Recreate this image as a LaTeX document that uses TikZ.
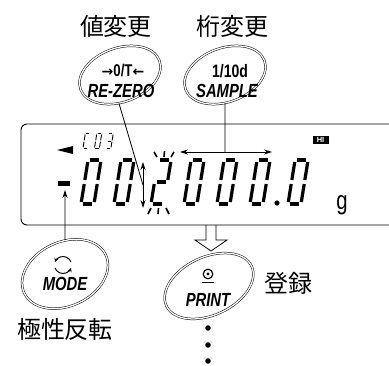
\documentclass[tikz,border=0pt]{standalone}
\usepackage{fontspec}
\setmainfont{Liberation Sans}
\newfontfamily\jpfont{Noto Sans CJK JP}
\newfontfamily\keyfont[FakeStretch=0.78]{Liberation Sans}
\newfontfamily\symfont{DejaVu Sans}
\usetikzlibrary{shapes.geometric, arrows.meta}

\newcommand{\keyarrow}[1]{{\symfont\bfseries\fontsize{14}{14}\selectfont #1}}

\begin{document}
\begin{tikzpicture}[x=1pt, y=-1pt, >={Stealth[length=8pt, width=5pt]},
    seg/.style={line width=3.2pt},
    keybtn/.style={ellipse, draw, double, double distance=1.3pt, line width=0.5pt, inner sep=0pt},
    keytext/.style={font=\keyfont\bfseries\itshape\fontsize{19}{19}\selectfont, inner sep=0pt},
    jplabel/.style={font=\jpfont\fontsize{24}{24}\selectfont, inner sep=0pt},
    pics/segdigit/.style={code={
        \coordinate (a1) at (2,-44);  \coordinate (a2) at (11,-44);
        \coordinate (b1) at (13,-42); \coordinate (b2) at (13,-24);
        \coordinate (c1) at (13,-20); \coordinate (c2) at (13,-2);
        \coordinate (d1) at (11,0);   \coordinate (d2) at (2,0);
        \coordinate (e1) at (0,-2);   \coordinate (e2) at (0,-20);
        \coordinate (f1) at (0,-24);  \coordinate (f2) at (0,-42);
        \coordinate (g1) at (2,-22);  \coordinate (g2) at (11,-22);
        \foreach \s in {#1} {\draw[seg] (\s1) -- (\s2);}
    }}]

    \useasboundingbox (0,0) rectangle (389,365);

    % --- Display window ---
    \draw[line width=0.9pt, rounded corners=6pt] (400,124) -- (21,124) -- (21,225) -- (400,225);

    % --- Main reading ---
    \fill (58,181) rectangle (70,186); % sign
    \foreach \xpos in {81,114,184,217,250,288}
        \pic[xslant=0.16] at (\xpos,204) {segdigit={a,b,c,d,e,f}};
    \pic[xslant=0.16] at (151,204) {segdigit={a,b,g,e,d}}; % blinking digit
    \fill (277,203) circle (2.6pt);
    \node[font=\keyfont\fontsize{26}{26}\selectfont, anchor=base, inner sep=0pt] (unit) at (342,209) {g};

    % --- Status marks ---
    \fill (57,150) -- (73,146) -- (73,154) -- cycle;
    \foreach \xpos/\segs in {83/{a,d,e,f}, 94.5/{a,b,c,d,e,f}, 106/{a,b,c,d,g}}
        \pic[xslant=0.16, xscale=0.38, yscale=0.32, seg/.style={line width=0.9pt}] at (\xpos,148) {segdigit/.expand once=\segs};
    \fill (312.5,135.5) rectangle (328.5,143.5);
    \node[text=white, inner sep=0pt, font=\bfseries\fontsize{7.5}{7.5}\selectfont] (hiicon) at (320.5,139.5) {HI};

    % --- Blink marks round the digit ---
    \draw[line width=1.6pt] (154,152) -- (157,157) (164.5,151) -- (164,157) (174,152) -- (171,157)
        (151,208) -- (148,214) (158.5,208) -- (158,214) (166,208) -- (169,214);

    % --- Keys ---
    \node[keybtn, rotate=20, minimum width=84pt, minimum height=54pt] (rezero) at (120,75) {};
    \node[keytext, font=\keyfont\bfseries\fontsize{17}{17}\selectfont] (rezerosym) at (123,71) {\keyarrow{→}0/T\keyarrow{←}};
    \node[keytext] (rezerolbl) at (121,91) {RE-ZERO};

    \node[keybtn, rotate=20, minimum width=84pt, minimum height=54pt] (sample) at (225,75) {};
    \node[keytext, font=\keyfont\bfseries\fontsize{18}{18}\selectfont] (samplesym) at (230,71) {1/10d};
    \node[keytext] (samplelbl) at (227,91) {SAMPLE};

    \node[keybtn, rotate=25, minimum width=90pt, minimum height=64pt] (mode) at (65,274) {};
    \coordinate (modesym) at (63,265);
    \draw[line width=1pt, ->, >={Stealth[length=4pt, width=4pt]}] (modesym) ++(-20:8.5) arc[start angle=-20, end angle=-160, radius=8.5];
    \draw[line width=1pt, ->, >={Stealth[length=4pt, width=4pt]}] (modesym) ++(-200:8.5) arc[start angle=-200, end angle=-340, radius=8.5];
    \node[keytext] (modelbl) at (65,284) {MODE};

    \node[keybtn, rotate=25, minimum width=94pt, minimum height=58pt] (print) at (209,286) {};
    \coordinate (printsym) at (208,274);
    \draw[line width=1.2pt] (printsym) circle (4.8pt);
    \fill (printsym) circle (1.6pt);
    \draw[line width=1.4pt] (202,282.5) -- (214,282.5);
    \node[keytext] (printlbl) at (208,300) {PRINT};

    % --- Labels ---
    \node[jplabel] (valchg) at (116,26) {値変更};
    \node[jplabel] (digchg) at (232,26) {桁変更};
    \node[jplabel] (store) at (288,283) {登録};
    \node[jplabel] (polarity) at (65,329) {極性反転};

    % --- Connectors ---
    \coordinate (udtop) at (143,162);
    \coordinate (udbot) at (143,208);
    \coordinate (udmid) at (143,185);
    \draw[<->, line width=0.8pt] (udtop) -- (udbot);
    \draw[line width=0.8pt] (rezero.248) -- (udmid);

    \coordinate (hleft) at (180,152);
    \coordinate (hright) at (272,152);
    \coordinate (hmid) at (225,152);
    \draw[<->, line width=0.8pt] (hleft) -- (hright);
    \draw[line width=0.8pt] (sample) -- (hmid);

    \coordinate (signtip) at (65,190);
    \draw[->, line width=0.8pt] (mode) -- (signtip);

    % --- Hollow arrow and dots ---
    \draw[line width=0.8pt] (206,225) -- (206,240) -- (195,240) -- (211,251) -- (227,240) -- (216,240) -- (216,225);
    \foreach \ypos in {328,345,361}
        \fill (208,\ypos) circle (2.8pt);

\end{tikzpicture}
\end{document}
